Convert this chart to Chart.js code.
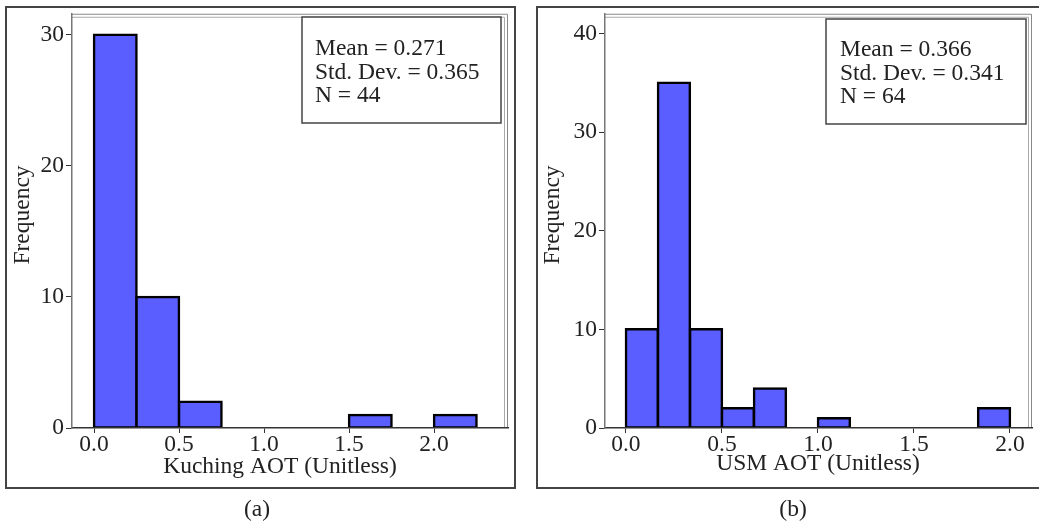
<!DOCTYPE html>
<html>
<head>
<meta charset="utf-8">
<script src="https://cdn.jsdelivr.net/npm/chart.js@4"></script>
<style>
  html, body { margin: 0; padding: 0; background: #fff; }
  #wrap { position: relative; width: 1039px; height: 527px; overflow: hidden; }
  canvas { position: absolute; top: 0; }
  #kuching { left: 0; }
  #usm { left: 520px; }
</style>
</head>
<body>
<div id="wrap">
  <canvas id="kuching" width="520" height="527"></canvas>
  <canvas id="usm" width="519" height="527"></canvas>
</div>
<script>
// Kuching AOT histogram: bin centres (bin width 0.25) and frequencies
const kuchingBinCentres = [0.125, 0.375, 0.625, 1.625, 2.125];
const kuchingCounts = [30, 10, 2, 1, 1];
const kuchingStats = ['Mean = 0.271', 'Std. Dev. = 0.365', 'N = 44'];

// USM AOT histogram: bin centres (bin width 1/6) and frequencies
const usmBinCentres = [0.083, 0.250, 0.417, 0.583, 0.750, 1.083, 1.917];
const usmCounts = [10, 35, 10, 2, 4, 1, 2];
const usmStats = ['Mean = 0.366', 'Std. Dev. = 0.341', 'N = 64'];

// Axis ticks
const xTickValues = [0.0, 0.5, 1.0, 1.5, 2.0];
const kuchingYTicks = [0, 10, 20, 30];
const usmYTicks = [0, 10, 20, 30, 40];

const FONT = '"Liberation Serif", "Times New Roman", serif';
const SIZE = 23.5;
const TEXT = '#222';
const BAR = '#5a5eff';

// Frames, axis titles, statistics box and caption around each histogram
const panelPlugin = {
  id: 'panel',
  beforeDraw(chart, args, o) {
    const ctx = chart.ctx;
    const a = chart.chartArea;
    ctx.save();
    ctx.fillStyle = '#fff';
    ctx.fillRect(0, 0, chart.width, chart.height);
    ctx.strokeStyle = '#444';
    ctx.lineWidth = 2;
    ctx.strokeRect(o.frame.x, o.frame.y, o.frame.w, o.frame.h);
    // double grey rule along the top and right of the plot area
    ctx.lineWidth = 1;
    ctx.strokeStyle = '#888';
    ctx.beginPath();
    ctx.moveTo(a.left, a.top + 0.5);
    ctx.lineTo(a.right - 0.5, a.top + 0.5);
    ctx.lineTo(a.right - 0.5, a.bottom);
    ctx.stroke();
    ctx.strokeStyle = '#aaa';
    ctx.beginPath();
    ctx.moveTo(a.left, a.top + 3.5);
    ctx.lineTo(a.right - 3.5, a.top + 3.5);
    ctx.lineTo(a.right - 3.5, a.bottom);
    ctx.stroke();
    ctx.restore();
  },
  afterDraw(chart, args, o) {
    const ctx = chart.ctx;
    ctx.save();
    ctx.font = SIZE + 'px ' + FONT;
    ctx.fillStyle = TEXT;

    // y-axis title
    ctx.save();
    ctx.translate(o.yTitle.x, o.yTitle.y);
    ctx.rotate(-Math.PI / 2);
    ctx.textAlign = 'center';
    ctx.textBaseline = 'middle';
    ctx.fillText(o.yTitle.text, 0, 0);
    ctx.restore();

    // x-axis title
    ctx.textAlign = 'center';
    ctx.textBaseline = 'alphabetic';
    ctx.fillText(o.xTitle.text, o.xTitle.x, o.xTitle.y);

    // statistics box
    const b = o.stats;
    ctx.fillStyle = '#fff';
    ctx.fillRect(b.x, b.y, b.w, b.h);
    ctx.strokeStyle = '#444';
    ctx.lineWidth = 1.5;
    ctx.strokeRect(b.x, b.y, b.w, b.h);
    ctx.fillStyle = TEXT;
    ctx.textAlign = 'left';
    b.lines.forEach((t, i) => ctx.fillText(t, b.tx, b.ty + i * b.lh));

    // panel caption
    ctx.textAlign = 'center';
    ctx.fillText(o.caption.text, o.caption.x, o.caption.y);
    ctx.restore();
  }
};

function histogram(id, centres, counts, yTicks, xMin, xMax, yMax, yAxisWidth, padRight, panel) {
  return new Chart(document.getElementById(id), {
    type: 'bar',
    data: {
      datasets: [{
        data: centres.map((c, i) => ({ x: c, y: counts[i] })),
        backgroundColor: BAR,
        borderColor: '#000',
        borderWidth: 2.5,
        borderSkipped: false,
        inflateAmount: 1.25,
        barPercentage: 1,
        categoryPercentage: 1
      }]
    },
    options: {
      responsive: false,
      animation: false,
      devicePixelRatio: 1,
      layout: { padding: { left: 0, top: 12, right: padRight, bottom: 59 } },
      plugins: {
        legend: { display: false },
        tooltip: { enabled: false },
        panel: panel
      },
      scales: {
        x: {
          type: 'linear',
          min: xMin,
          max: xMax,
          offset: false,
          afterBuildTicks: s => { s.ticks = xTickValues.map(v => ({ value: v })); },
          afterFit: s => { s.height = 40; },
          grid: { offset: false, drawOnChartArea: false, drawTicks: true, tickLength: 5, color: '#333', lineWidth: 1 },
          border: { display: true, color: '#333', width: 1.5, z: 1 },
          ticks: {
            color: TEXT,
            font: { family: FONT, size: SIZE, lineHeight: 1 },
            padding: 0,
            maxRotation: 0,
            autoSkip: false,
            callback: v => Number(v).toFixed(1)
          }
        },
        y: {
          type: 'linear',
          min: 0,
          max: yMax,
          afterBuildTicks: s => { s.ticks = yTicks.map(v => ({ value: v })); },
          afterFit: s => { s.width = yAxisWidth; },
          grid: { drawOnChartArea: false, drawTicks: true, tickLength: 6, color: '#333', lineWidth: 1 },
          border: { display: true, color: '#777', width: 1.5, z: 1 },
          ticks: {
            color: TEXT,
            font: { family: FONT, size: SIZE, lineHeight: 1 },
            padding: 2,
            autoSkip: false,
            callback: v => String(v)
          }
        }
      }
    },
    plugins: [panelPlugin]
  });
}

histogram('kuching', kuchingBinCentres, kuchingCounts, kuchingYTicks,
  -0.1294, 2.435, 31.6, 72, 12, {
    frame: { x: 6, y: 7, w: 509, h: 481 },
    yTitle: { text: 'Frequency', x: 23, y: 215 },
    xTitle: { text: 'Kuching AOT (Unitless)', x: 280, y: 473 },
    stats: { x: 302, y: 17, w: 199, h: 106, tx: 315, ty: 55, lh: 23.5, lines: kuchingStats },
    caption: { text: '(a)', x: 257, y: 516 }
  });

histogram('usm', usmBinCentres, usmCounts, usmYTicks,
  -0.109, 2.1146, 42.0, 85, 7, {
    frame: { x: 17, y: 7, w: 530, h: 481 },
    yTitle: { text: 'Frequency', x: 33, y: 215 },
    xTitle: { text: 'USM AOT (Unitless)', x: 298, y: 470 },
    stats: { x: 306, y: 19, w: 200, h: 105, tx: 320, ty: 56, lh: 23.5, lines: usmStats },
    caption: { text: '(b)', x: 273, y: 516 }
  });
</script>
</body>
</html>
